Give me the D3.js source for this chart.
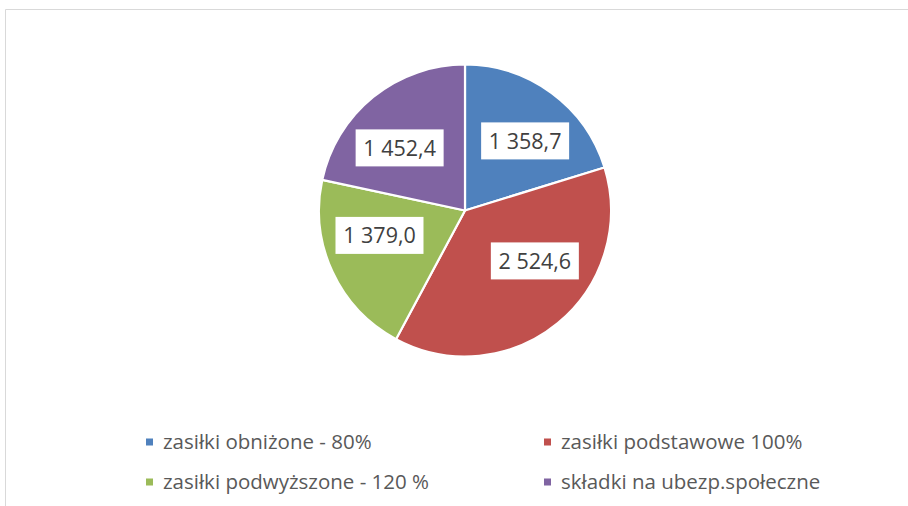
<!DOCTYPE html>
<html><head><meta charset="utf-8">
<script src="https://cdn.jsdelivr.net/npm/d3@7"></script>
<style>html,body{margin:0;padding:0;background:#fff;}svg{display:block;}</style>
</head><body>
<script>
const categories = ["zasiłki obniżone - 80%", "zasiłki podstawowe 100%", "zasiłki podwyższone - 120 %", "składki na ubezp.społeczne"];
const values = [1358.7, 2524.6, 1379.0, 1452.4];
const labels = ["1 358,7", "2 524,6", "1 379,0", "1 452,4"];
const colors = ["#4f81bd", "#c0504d", "#9bbb59", "#8064a2"];

const W = 908, H = 506;
const cx = 465, cy = 210.5, R = 146;
const font = "'Open Sans', sans-serif";
// label placement nudges (angle delta in degrees, radius factor) mimicking Excel best-fit
const labelLayout = [[4.4, 0.63], [-14.7, 0.59], [8.6, 0.61], [-7.3, 0.62]];

const svg = d3.select("body").append("svg").attr("width", W).attr("height", H);
svg.append("rect").attr("width", W).attr("height", H).attr("fill", "#fff");
svg.append("path").attr("d", `M5.5,${H} V9.5 H${W}`).attr("fill", "none").attr("stroke", "#d9d9d9").attr("stroke-width", 1);

const pie = d3.pie().sort(null).value(d => d)(values);
const arc = d3.arc().innerRadius(0).outerRadius(R);
const g = svg.append("g").attr("transform", `translate(${cx},${cy})`);
g.selectAll("path.slice").data(pie).join("path").attr("class", "slice")
  .attr("d", arc).attr("fill", (d, i) => colors[i])
  .attr("stroke", "#fff").attr("stroke-width", 2.2).attr("stroke-linejoin", "round");

pie.forEach((d, i) => {
  const mid = (d.startAngle + d.endAngle) / 2 + labelLayout[i][0] * Math.PI / 180;
  const r = R * labelLayout[i][1];
  const x = Math.sin(mid) * r, y = -Math.cos(mid) * r;
  const lg = g.append("g").attr("transform", `translate(${x},${y})`);
  lg.append("rect").attr("x", -44).attr("y", -18.5).attr("width", 88).attr("height", 37).attr("fill", "#fff");
  lg.append("text").attr("text-anchor", "middle").attr("dy", "0.36em")
    .attr("font-family", font).attr("font-size", 21.5).attr("fill", "#404040").text(labels[i]);
});

const legendPos = [[146, 442], [544, 442], [146, 482], [544, 482]];
categories.forEach((c, i) => {
  const [x, y] = legendPos[i];
  svg.append("rect").attr("x", x).attr("y", y - 3.5).attr("width", 7).attr("height", 7).attr("fill", colors[i]);
  svg.append("text").attr("x", x + 17).attr("y", y).attr("dy", "0.36em")
    .attr("font-family", font).attr("font-size", 20.5).attr("fill", "#595959").text(c);
});
</script>
</body></html>
